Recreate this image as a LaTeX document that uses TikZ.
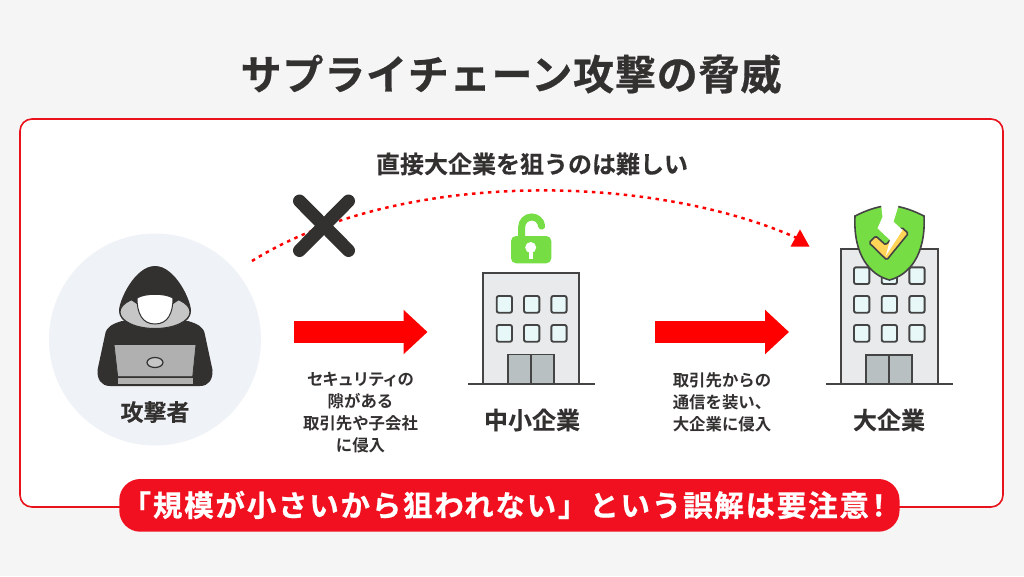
\documentclass[tikz,border=0pt]{standalone}
\usepackage{fontspec}
\setmainfont{Noto Sans CJK JP}[BoldFont={Noto Sans CJK JP Bold}]
\newfontface\titlefont{Noto Sans CJK JP Bold}[FakeBold=0.7,LetterSpace=2]
\newfontface\headfont{Noto Sans CJK JP Bold}[FakeBold=0.25]
\newfontface\bannerfont{Noto Sans CJK JP Bold}[FakeBold=0.7,LetterSpace=6]
\newfontface\smallfont{Noto Sans CJK JP Bold}
\newfontface\tightfont{Noto Sans CJK JP Bold}[LetterSpace=-7]
\usetikzlibrary{arrows.meta,shapes.geometric}
\definecolor{ink}{HTML}{333130}
\definecolor{redM}{HTML}{FF0000}
\definecolor{panelRed}{HTML}{E8111C}
\definecolor{bannerRed}{HTML}{F01020}
\definecolor{bgG}{HTML}{F5F5F5}
\definecolor{circG}{HTML}{EFF2F6}
\definecolor{wallG}{HTML}{E9EAEC}
\definecolor{winB}{HTML}{E8F8F8}
\definecolor{doorG}{HTML}{B9C0C2}
\definecolor{lineG}{HTML}{444444}
\definecolor{greenL}{HTML}{76DD45}
\definecolor{yellowC}{HTML}{FFD457}
\definecolor{hoodG}{HTML}{C6C6C6}
\definecolor{lapG}{HTML}{B0B0B0}
\tikzset{
  x=1pt,y=-1pt,
  title/.style={font=\titlefont\fontsize{41}{41}\selectfont,text=ink,inner sep=0pt},
  head/.style={font=\headfont\fontsize{24}{24}\selectfont,text=ink,inner sep=0pt},
  small/.style={font=\smallfont\fontsize{16.4}{22}\selectfont,text=ink,inner sep=0pt,align=center},
  bigarrow/.style={draw=redM,line width=21.3pt,-{Triangle[length=24pt,width=43pt]}},
  dotline/.style={draw=redM,line width=2.5pt,dash pattern=on 3.5pt off 4.5pt},
  wall/.style={draw=lineG,fill=wallG,line width=1.8pt},
  ground/.style={draw=lineG,line width=1.8pt},
  win/.style={draw=lineG,fill=winB,line width=1.9pt,rounded corners=2pt},
  door/.style={draw=lineG,fill=doorG,line width=1.8pt},
  hack/.style={draw=ink,line width=1pt},
}
\begin{document}
\begin{tikzpicture}
\useasboundingbox (0,0) rectangle (1024,576);
\fill[bgG] (0,0) rectangle (1024,576);
\draw[panelRed,fill=white,line width=1.6pt,rounded corners=12pt] (20,119) rectangle (1003,507);
\node[title] (title) at (511,74) {サプライチェーン攻撃の脅威};
\node[head] (direct) at (532,164) {直接大企業を狙うのは難しい};

% attacker
\node[circle,fill=circG,minimum size=212pt,inner sep=0pt] (attackerbg) at (155,339.5) {};
\fill[ink] (110,386) .. controls (101,386) and (97,379) .. (97.5,370) -- (105,335)
  .. controls (106,327) and (112,324) .. (122,321) -- (188,321)
  .. controls (198,324) and (204,327) .. (205,335) -- (212.5,370)
  .. controls (213,379) and (209,386) .. (200,386) -- cycle;
\fill[ink] (119,311) .. controls (119,300) and (135,266) .. (155,266)
  .. controls (175,266) and (191,300) .. (191,311)
  .. controls (191,322) and (175,330) .. (155,330)
  .. controls (135,330) and (119,322) .. (119,311) -- cycle;
\draw[hack,fill=hoodG] (155,312) ellipse [x radius=35,y radius=16.5];
\fill[ink] (131,300) .. controls (137,291) and (173,291) .. (179,300) -- (173,304) -- (137,304) -- cycle;
\draw[hack,fill=white] (137,298) .. controls (137,313) and (142,324) .. (155,324)
  .. controls (168,324) and (173,313) .. (173,298)
  .. controls (165,293) and (145,293) .. (137,298) -- cycle;
\draw[hack,fill=lapG,line width=.8pt] (114,344.5) -- (196,344.5) -- (192.7,376.7) -- (117.7,376.7) -- cycle;
\fill[lapG] (117.7,378) rectangle (192.7,384);
\draw[hack,fill=hoodG,line width=1.2pt] (155,362.5) ellipse [x radius=8,y radius=5];
\node[head,font=\headfont\fontsize{23}{23}\selectfont] (attacker) at (155,412) {攻撃者};

% dotted route and X
\coordinate (dstart) at (252,261);
\coordinate (dend) at (797,238);
\path[dotline] (dstart) .. controls (400,169) and (650,173) .. (dend);
\node[isosceles triangle,isosceles triangle apex angle=58,shape border rotate=92,fill=redM,minimum height=15pt,minimum width=19pt,inner sep=0pt] (dtip) at (800,241) {};
\coordinate (xa) at (299.5,201); \coordinate (xb) at (348.5,250.5);
\coordinate (xc) at (348.5,201); \coordinate (xd) at (299.5,250.5);
\draw[ink,line width=13pt,line cap=round] (xa) -- (xb) (xc) -- (xd);

% big arrows
\coordinate (a1s) at (294,332); \coordinate (a1e) at (427.5,332);
\coordinate (a2s) at (655,332); \coordinate (a2e) at (789,332);
\draw[bigarrow] (a1s) -- (a1e);
\draw[bigarrow] (a2s) -- (a2e);
\node[small] (t1) at (360.5,413) {{\tightfont\fontsize{16.4}{22}\selectfont セキュリティの}\\隙がある\\取引先や子会社\\に侵入};
\node[small] (t2) at (722,402) {取引先からの\\通信を装い、\\大企業に侵入};

% small company
\draw[wall] (482.7,273.3) rectangle (579.3,384);
\foreach \wx in {496.7,524,551.3} \foreach \wy in {296,325}
  \draw[win] (\wx,\wy) rectangle ++(15.3,16.7);
\draw[door] (508.3,354.5) rectangle (531,384);
\draw[door] (531,354.5) rectangle (553.7,384);
\draw[ground] (468.3,384) -- (595,384);
\draw[greenL,line width=7pt,line cap=round] (521.7,238) -- (521.7,227) arc[start angle=180,end angle=355,radius=10];
\fill[greenL,rounded corners=5pt] (511,236) rectangle (551.3,263.3);
\fill[white] (530.7,247.5) circle (5.5);
\fill[white] (528.7,248) rectangle (532.7,259);
\node[head] (small) at (532,420) {中小企業};

% large company
\draw[wall] (840.7,249.3) rectangle (937.7,384);
\foreach \wx in {854,881.7,909.3} \foreach \wy in {267.3,296,325}
  \draw[win] (\wx,\wy) rectangle ++(15.3,16.7);
\draw[door] (866,355) rectangle (888.7,384);
\draw[door] (888.7,355) rectangle (911.7,384);
\draw[ground] (826,384) -- (952.7,384);
\draw[lineG,fill=greenL,line width=1.6pt] (889.5,280)
  .. controls (870,275) and (853,255) .. (855,216)
  .. controls (865,211) and (875,207) .. (889.5,205)
  .. controls (904,207) and (914,211) .. (924,216)
  .. controls (926,255) and (909,275) .. (889.5,280) -- cycle;
\draw[lineG,fill=yellowC,line width=1.6pt,rounded corners=1.5pt,line join=round]
  (869,242.7) -- (875.7,236) -- (885.7,245) -- (901.7,227.3) -- (908.3,233.5) -- (886.7,260) -- cycle;
\fill[white] (881,204) -- (899,204) -- (893.5,221.7) -- (902.5,230) -- (885.7,256)
  -- (890,240) -- (877.5,228.3) -- (882.5,217) -- cycle;
\node[head] (large) at (889,420) {大企業};

% banner
\fill[bannerRed,rounded corners=21pt] (119.3,479) rectangle (899.5,531.7);
\node[font=\bannerfont\fontsize{29.5}{30}\selectfont,text=white,inner sep=0pt,anchor=west] (banner) at (121.5,505) {「規模が小さいから狙われない」という誤解は要注意\kern-5pt ！};
\end{tikzpicture}
\end{document}
